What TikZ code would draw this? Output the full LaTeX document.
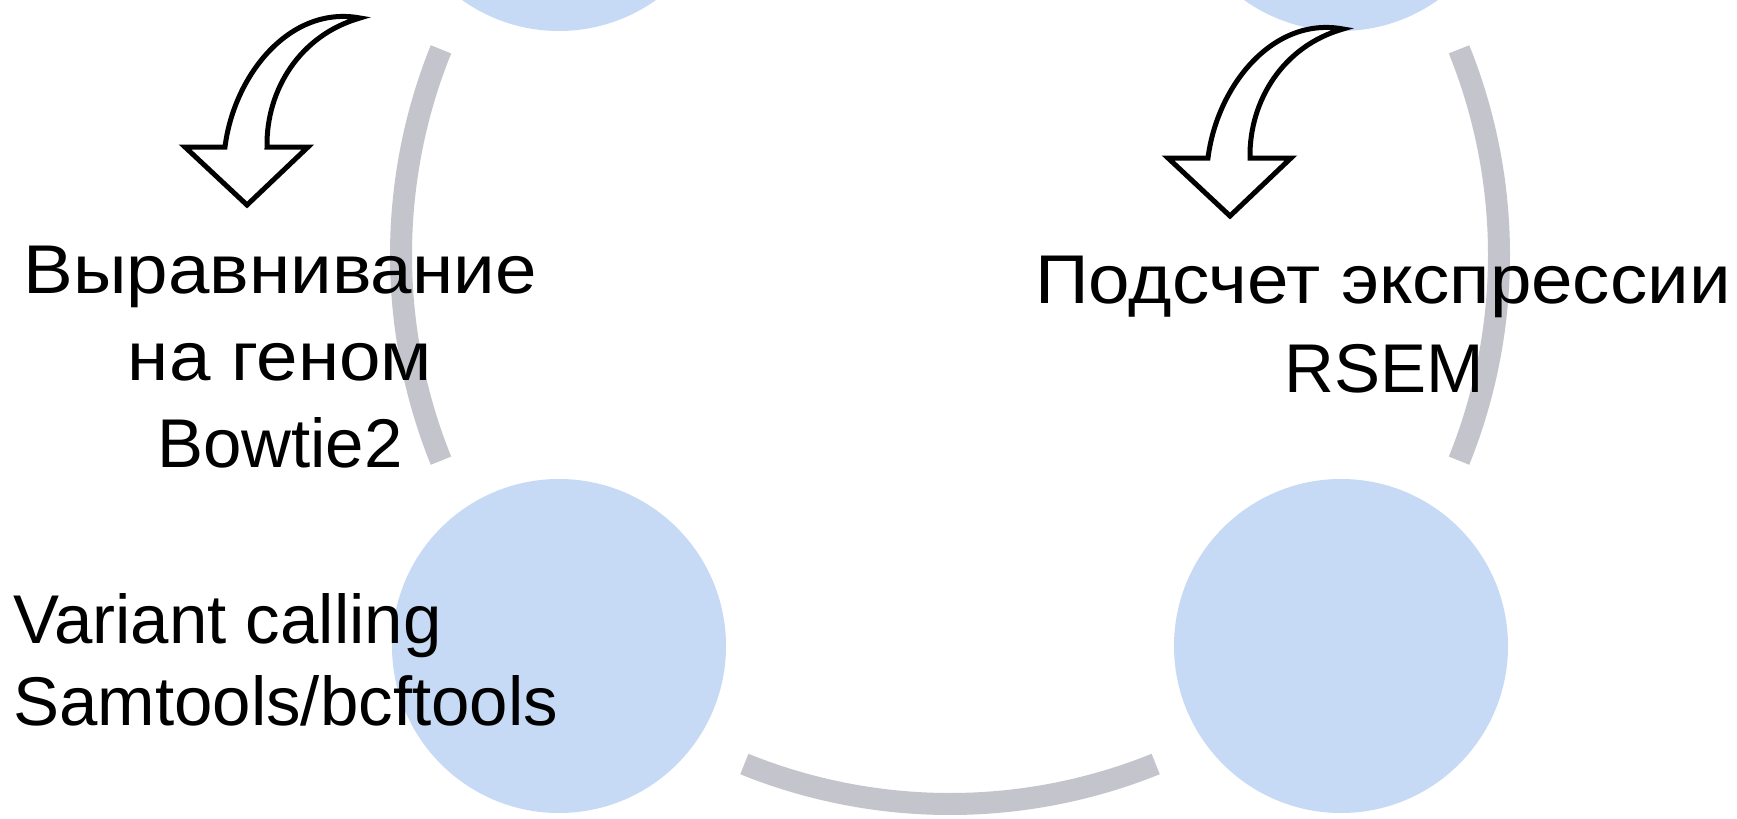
\documentclass[tikz,border=0pt]{standalone}
\usepackage{fontspec}
\setmainfont{Liberation Sans}
\newfontfamily\cyrwide{Liberation Sans}[FakeStretch=1.08]
\usetikzlibrary{calc}
\definecolor{circfill}{RGB}{198,218,246}
\definecolor{arcgray}{RGB}{196,196,204}
\tikzset{
  circ/.style={circle, fill=circfill, draw=none, minimum size=167pt, inner sep=0pt},
  cyc/.style={draw=arcgray, line width=11pt, line cap=butt},
  lbl/.style={font=\fontsize{34.5}{41}\selectfont, inner sep=0pt, anchor=base},
  cyrlbl/.style={lbl, font=\cyrwide\fontsize{34.5}{41}\selectfont},
  lblw/.style={lbl, anchor=base west},
  barrow/.style={draw=black, fill=white, line width=2.5pt, line join=miter},
  curvearrow/.pic={
    \path[barrow] (360,18) .. controls (290,5) and (234,75) .. (225,147)
      -- (185,147) -- (247,205) -- (308,147) -- (267,147)
      .. controls (266,90) and (300,35) .. (360,18) -- cycle;
  }
}
\begin{document}
\begin{tikzpicture}[x=0.5pt, y=-0.5pt]
  \useasboundingbox (0,0) rectangle (1737,819);
  \fill[white] (0,0) rectangle (1737,819);
  \clip (0,0) rectangle (1737,819);
  % cycle centre
  \coordinate (C) at (950,255);
  % circles
  \node[circ] (tl) at (559,-136) {};
  \node[circ] (tr) at (1341,-136) {};
  \node[circ] (bl) at (559,646) {};
  \node[circ] (br) at (1341,646) {};
  % connecting arcs
  \draw[cyc] ($(C)+(158:274.5pt)$) arc[start angle=158, end angle=202, radius=274.5pt];
  \draw[cyc] ($(C)+(248:274.5pt)$) arc[start angle=248, end angle=292, radius=274.5pt];
  \draw[cyc] ($(C)+(-22:274.5pt)$) arc[start angle=-22, end angle=22, radius=274.5pt];
  % curved block arrows
  \pic (arrL) at (0,0) {curvearrow};
  \pic (arrR) at (983,11) {curvearrow};
  % labels
  \node[cyrlbl] (t1a) at (280,293) {Выравнивание};
  \node[cyrlbl] (t1b) at (280,380) {на геном};
  \node[lbl] (t1c) at (280,467) {Bowtie2};
  \node[cyrlbl] (t2a) at (1383,303) {Подсчет экспрессии};
  \node[lbl] (t2b) at (1384,392) {RSEM};
  \node[lblw] (t3a) at (13,643) {Variant calling};
  \node[lblw] (t3b) at (13,725) {Samtools/bcftools};
\end{tikzpicture}
\end{document}
